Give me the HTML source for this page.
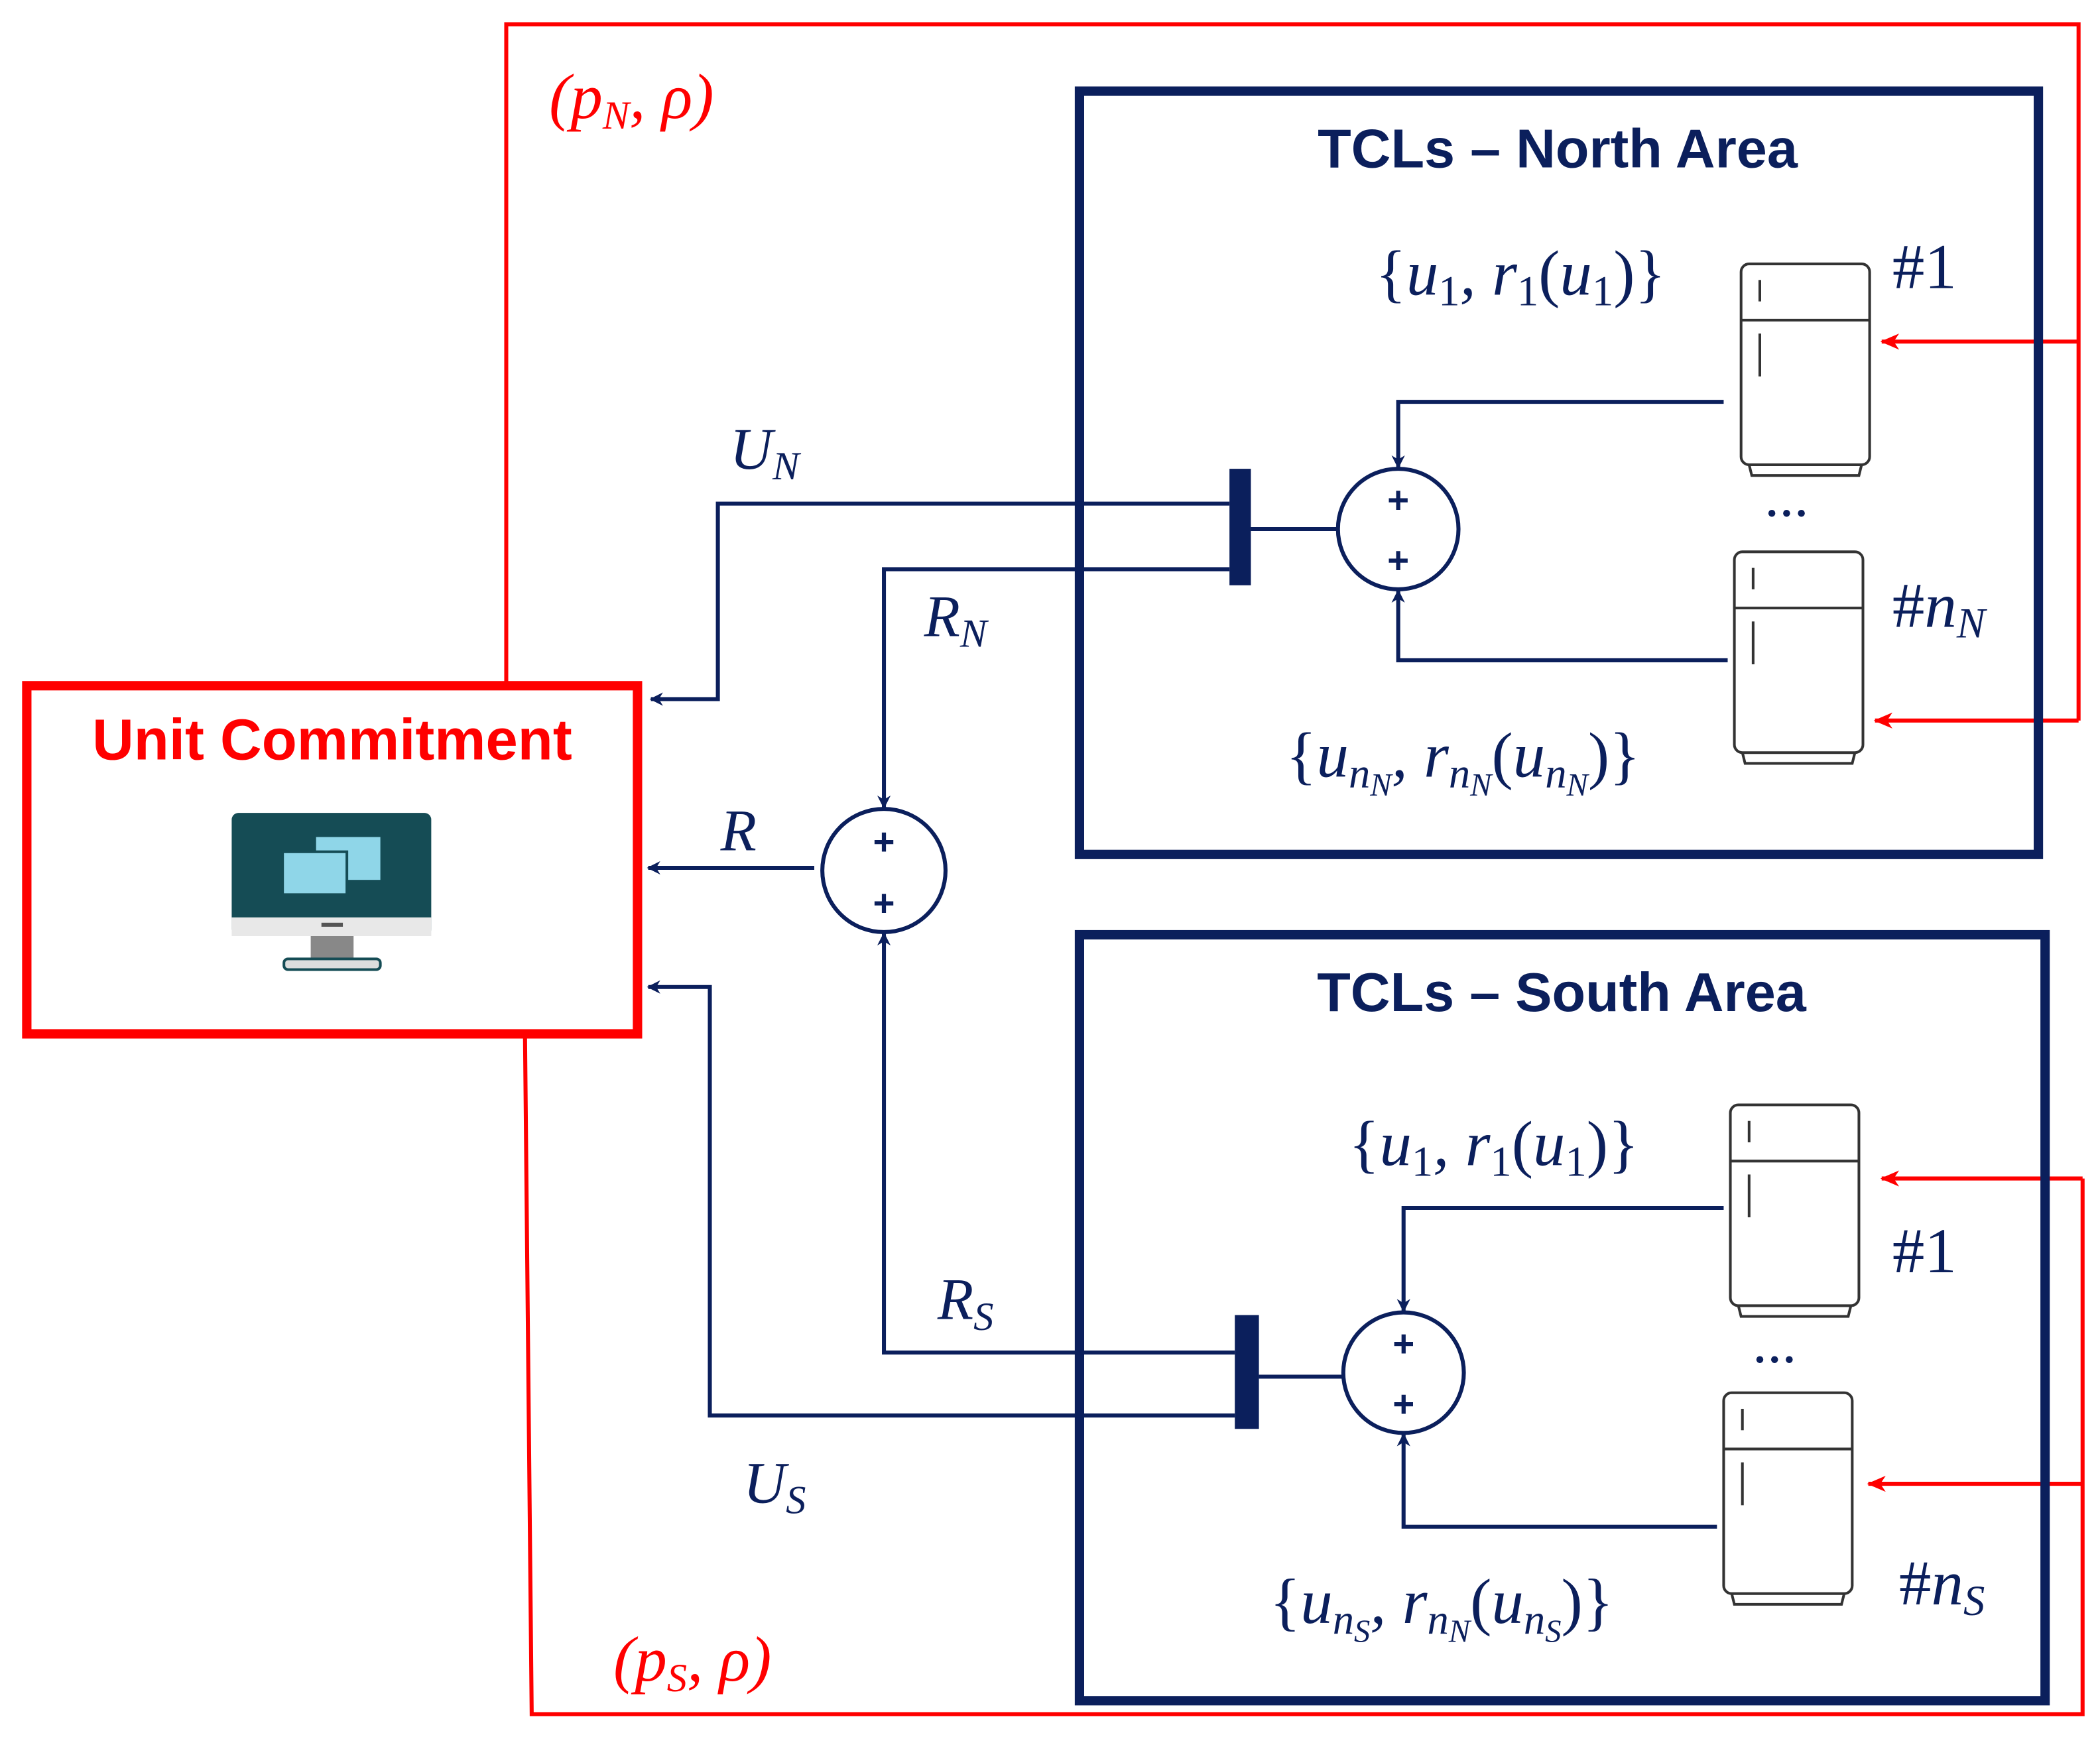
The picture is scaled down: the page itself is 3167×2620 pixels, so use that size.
<!DOCTYPE html>
<html><head><meta charset="utf-8"><style>
html,body{margin:0;padding:0;background:#fff}
svg{display:block}
.m{font-family:"Liberation Serif",serif;font-style:italic;font-size:44px;fill:#0b1f5c}
.s{font-size:48px}
.r{font-style:normal}
.red{fill:#f00}
.t{font-family:"Liberation Sans",sans-serif;font-weight:bold;font-size:41px;fill:#0b1f5c}
.p{font-family:"Liberation Sans",sans-serif;font-weight:bold;font-size:28px;fill:#0b1f5c}
</style></head><body>
<svg width="3167" height="2620" viewBox="0 0 1568 1297" xmlns="http://www.w3.org/2000/svg">
<defs>
<marker id="an" markerWidth="10" markerHeight="10" refX="9" refY="5" orient="auto" markerUnits="userSpaceOnUse" viewBox="0 0 10 10"><path d="M0,0 L10,5 L0,10 L3,5z" fill="#0b1f5c"/></marker>
<marker id="ar" markerWidth="14" markerHeight="12" refX="13" refY="6" orient="auto" markerUnits="userSpaceOnUse" viewBox="0 0 14 12"><path d="M0,0 L14,6 L0,12 L4,6z" fill="#f00"/></marker>
<g id="fr">
<rect x="0" y="0" width="96" height="150" rx="6" fill="#fff" stroke="#333" stroke-width="2"/>
<line x1="0" y1="42" x2="96" y2="42" stroke="#333" stroke-width="2"/>
<line x1="14" y1="12" x2="14" y2="28" stroke="#333" stroke-width="2"/>
<line x1="14" y1="52" x2="14" y2="84" stroke="#333" stroke-width="2"/>
<path d="M6,150 L8,158 L88,158 L90,150" fill="none" stroke="#333" stroke-width="2"/>
</g>
</defs>
<g fill="none" stroke="#f00" stroke-width="3">
<polyline points="378,510 378,18 1552,18 1552,538"/>
<line x1="1552" y1="255" x2="1405" y2="255" marker-end="url(#ar)"/>
<line x1="1552" y1="538" x2="1400" y2="538" marker-end="url(#ar)"/>
<polyline points="392,773 397,1280 1555,1280 1555,880"/>
<line x1="1555" y1="880" x2="1405" y2="880" marker-end="url(#ar)"/>
<line x1="1555" y1="1108" x2="1395" y2="1108" marker-end="url(#ar)"/>
</g>
<text x="410" y="88" class="m red s">(p<tspan font-size="30" dy="8">N</tspan><tspan dy="-8">, ρ)</tspan></text>
<text x="458" y="1255" class="m red s">(p<tspan font-size="30" dy="8">S</tspan><tspan dy="-8">, ρ)</tspan></text>
<rect x="20" y="512" width="456" height="260" fill="#fff" stroke="#f00" stroke-width="7"/>
<text x="248" y="567" text-anchor="middle" font-family="Liberation Sans,sans-serif" font-weight="bold" font-size="43" fill="#f00">Unit Commitment</text>
<rect x="173" y="607" width="149" height="92" rx="5" fill="#154c55"/>
<rect x="173" y="685" width="149" height="14" fill="#e8e8e8"/>
<rect x="240" y="689" width="16" height="3" fill="#555"/>
<rect x="232" y="699" width="32" height="17" fill="#888"/>
<rect x="212" y="716" width="72" height="8" rx="3" fill="#ddd" stroke="#154c55" stroke-width="2"/>
<rect x="236" y="625" width="48" height="32" fill="#8fd6e8"/>
<rect x="211" y="636" width="48" height="32" fill="#8fd6e8" stroke="#154c55" stroke-width="2"/>
<rect x="806" y="68" width="716" height="570" fill="none" stroke="#0b1f5c" stroke-width="7"/>
<rect x="806" y="698" width="721" height="572" fill="none" stroke="#0b1f5c" stroke-width="7"/>
<text x="1163" y="125" text-anchor="middle" class="t">TCLs – North Area</text>
<text x="1166" y="755" text-anchor="middle" class="t">TCLs – South Area</text>
<use href="#fr" x="1300" y="197"/>
<use href="#fr" x="1295" y="412"/>
<use href="#fr" x="1292" y="825"/>
<use href="#fr" x="1287" y="1040"/>
<g fill="none" stroke="#0b1f5c" stroke-width="3">
<polyline points="1287,300 1044,300 1044,349" marker-end="url(#an)"/>
<polyline points="1290,493 1044,493 1044,441" marker-end="url(#an)"/>
<line x1="999" y1="395" x2="934" y2="395"/>
<polyline points="918,376 536,376 536,522 486,522" marker-end="url(#an)"/>
<polyline points="918,425 660,425 660,603" marker-end="url(#an)"/>
<line x1="608" y1="648" x2="484" y2="648" marker-end="url(#an)"/>
<polyline points="922,1010 660,1010 660,697" marker-end="url(#an)"/>
<polyline points="922,1057 530,1057 530,737 484,737" marker-end="url(#an)"/>
<polyline points="1287,902 1048,902 1048,979" marker-end="url(#an)"/>
<polyline points="1282,1140 1048,1140 1048,1071" marker-end="url(#an)"/>
<line x1="1003" y1="1028" x2="940" y2="1028"/>
<circle cx="1044" cy="395" r="45"/>
<circle cx="1048" cy="1025" r="45"/>
<circle cx="660" cy="650" r="46"/>
</g>
<rect x="918" y="350" width="16" height="87" fill="#0b1f5c"/>
<rect x="922" y="982" width="18" height="85" fill="#0b1f5c"/>
<text x="1044" y="383" text-anchor="middle" class="p">+</text>
<text x="1044" y="428" text-anchor="middle" class="p">+</text>
<text x="1048" y="1013" text-anchor="middle" class="p">+</text>
<text x="1048" y="1058" text-anchor="middle" class="p">+</text>
<text x="660" y="638" text-anchor="middle" class="p">+</text>
<text x="660" y="684" text-anchor="middle" class="p">+</text>
<text x="545" y="350" class="m">U<tspan font-size="30" dy="8">N</tspan></text>
<text x="690" y="475" class="m">R<tspan font-size="30" dy="8">N</tspan></text>
<text x="538" y="635" class="m">R</text>
<text x="700" y="985" class="m">R<tspan font-size="30" dy="8">S</tspan></text>
<text x="555" y="1122" class="m">U<tspan font-size="30" dy="8">S</tspan></text>
<text x="1027" y="220" class="m s"><tspan class="r">{</tspan>u<tspan class="r" font-size="32" dy="8">1</tspan><tspan dy="-8">, r</tspan><tspan class="r" font-size="32" dy="8">1</tspan><tspan class="r" dy="-8">(</tspan>u<tspan class="r" font-size="32" dy="8">1</tspan><tspan class="r" dy="-8">)}</tspan></text>
<text x="1007" y="870" class="m s"><tspan class="r">{</tspan>u<tspan class="r" font-size="32" dy="8">1</tspan><tspan dy="-8">, r</tspan><tspan class="r" font-size="32" dy="8">1</tspan><tspan class="r" dy="-8">(</tspan>u<tspan class="r" font-size="32" dy="8">1</tspan><tspan class="r" dy="-8">)}</tspan></text>
<text x="960" y="580" class="m s"><tspan class="r">{</tspan>u<tspan font-size="32" dy="8">n</tspan><tspan font-size="24" dy="6">N</tspan><tspan dy="-14">, r</tspan><tspan font-size="32" dy="8">n</tspan><tspan font-size="24" dy="6">N</tspan><tspan class="r" dy="-14">(</tspan>u<tspan font-size="32" dy="8">n</tspan><tspan font-size="24" dy="6">N</tspan><tspan class="r" dy="-14">)}</tspan></text>
<text x="948" y="1212" class="m s"><tspan class="r">{</tspan>u<tspan font-size="32" dy="8">n</tspan><tspan font-size="24" dy="6">S</tspan><tspan dy="-14">, r</tspan><tspan font-size="32" dy="8">n</tspan><tspan font-size="24" dy="6">N</tspan><tspan class="r" dy="-14">(</tspan>u<tspan font-size="32" dy="8">n</tspan><tspan font-size="24" dy="6">S</tspan><tspan class="r" dy="-14">)}</tspan></text>
<text x="1413" y="215" class="m r s">#1</text>
<text x="1413" y="950" class="m r s">#1</text>
<text x="1413" y="468" class="m s"><tspan class="r">#</tspan>n<tspan font-size="32" dy="8">N</tspan></text>
<text x="1418" y="1198" class="m s"><tspan class="r">#</tspan>n<tspan font-size="32" dy="8">S</tspan></text>
<text x="1334" y="385" text-anchor="middle" class="m r" font-size="30">...</text>
<text x="1325" y="1017" text-anchor="middle" class="m r" font-size="30">...</text>
</svg>
</body></html>
